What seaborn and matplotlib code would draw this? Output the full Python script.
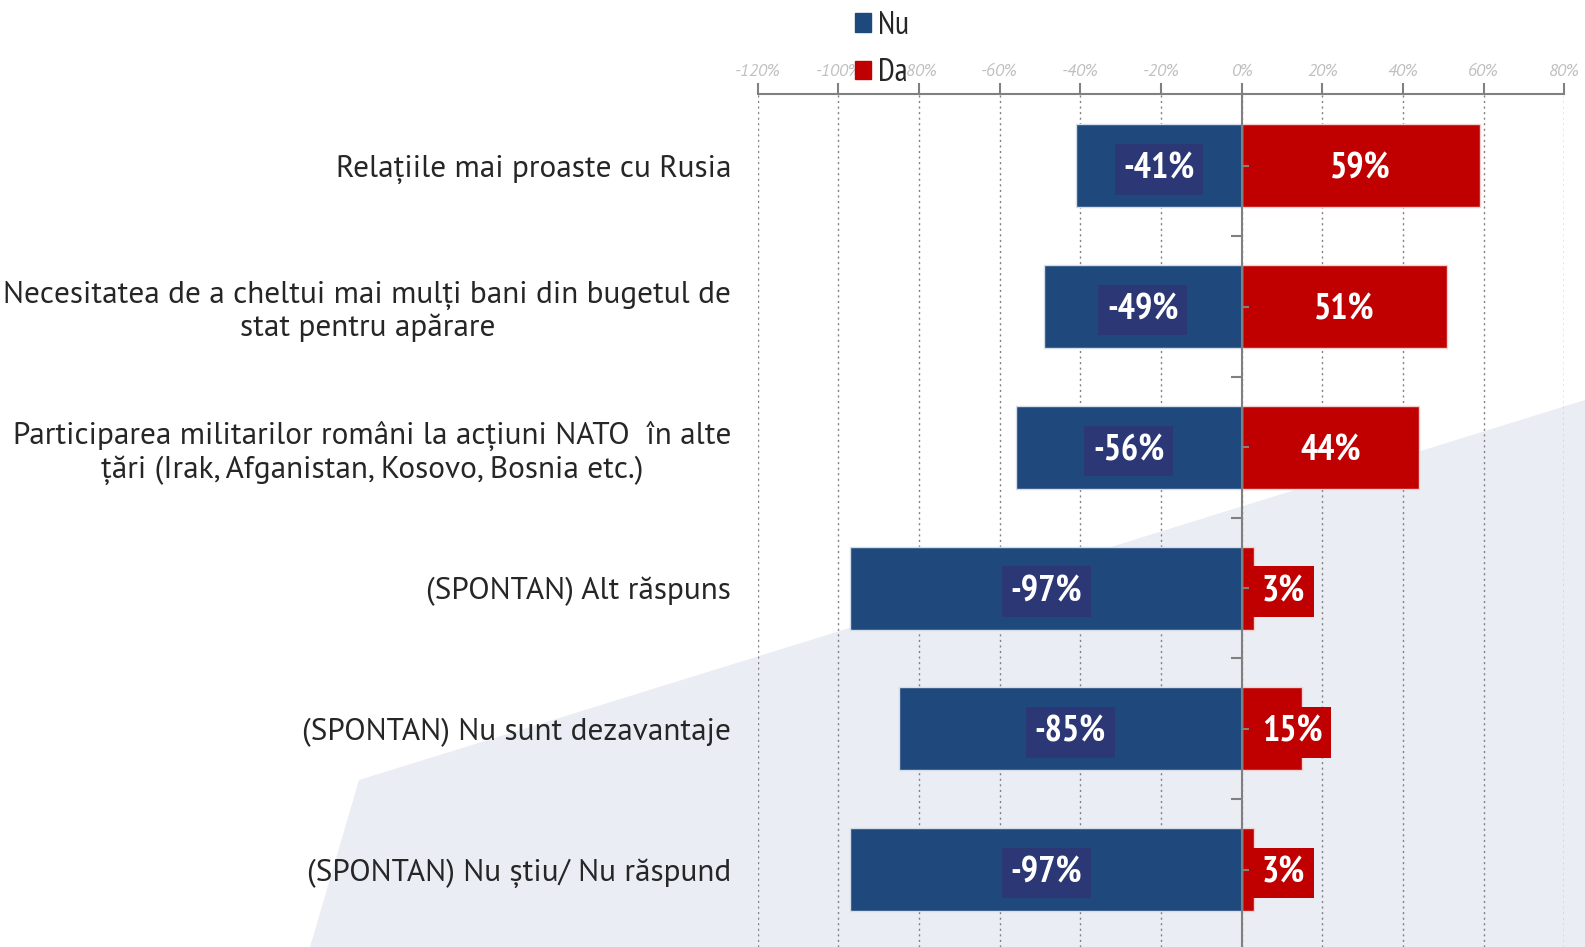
import numpy as np
import pandas as pd
import matplotlib
matplotlib.use("Agg")
import matplotlib.pyplot as plt
from matplotlib.patches import Polygon
import seaborn as sns

# data
categories = [
    "Relațiile mai proaste cu Rusia",
    "Necesitatea de a cheltui mai mulți bani din bugetul de\nstat pentru apărare",
    "Participarea militarilor români la acțiuni NATO  în alte\nțări (Irak, Afganistan, Kosovo, Bosnia etc.)",
    "(SPONTAN) Alt răspuns",
    "(SPONTAN) Nu sunt dezavantaje",
    "(SPONTAN) Nu știu/ Nu răspund",
]
nu_values = [-41, -49, -56, -97, -85, -97]
da_values = [59, 51, 44, 3, 15, 3]
xticks = list(range(-120, 81, 20))

blue = "#1f497d"
red = "#c00000"
box_blue = "#2c3876"

sns.set_style("white")
plt.rcParams["font.family"] = ["PT Sans", "DejaVu Sans"]

df = pd.DataFrame({"cat": categories, "Nu": nu_values, "Da": da_values})

fig = plt.figure(figsize=(15.85, 9.47), dpi=100)

# light background shape in the lower right
bg = Polygon([[310 / 1585, 0], [359 / 1585, 1 - 780 / 947], [1, 1 - 400 / 947], [1, 0]],
             closed=True, transform=fig.transFigure, facecolor="#eaeef4",
             edgecolor="none", zorder=-10)
fig.patches.append(bg)

ax = fig.add_axes([0.478, 0.0, 0.509, 0.9007])
ax.patch.set_alpha(0)

sns.barplot(data=df, x="Nu", y="cat", orient="h", color=blue, width=0.59,
            edgecolor="#d5dde8", linewidth=1, saturation=1, ax=ax, zorder=3)
sns.barplot(data=df, x="Da", y="cat", orient="h", color=red, width=0.59,
            edgecolor="#f0d0d0", linewidth=1, saturation=1, ax=ax, zorder=3)

ax.set_xlim(-120, 80)
ax.set_ylim(len(categories) - 0.45, -0.51)
ax.set_xlabel("")
ax.set_ylabel("")

# top axis
ax.xaxis.tick_top()
ax.set_xticks(xticks)
ax.set_xticklabels([f"{t}%" for t in xticks], fontsize=12.5, color="#bfbfbf",
                   style="italic")
ax.tick_params(axis="x", direction="out", length=8, width=1.5, color="#808080", pad=2)
ax.grid(axis="x", linestyle=(0, (1.5, 2.5)), color="#808080", linewidth=1, zorder=0)

for s in ["left", "right", "bottom"]:
    ax.spines[s].set_visible(False)
ax.spines["top"].set_color("#808080")
ax.spines["top"].set_linewidth(1.5)

ax.tick_params(axis="y", length=0, pad=19, labelsize=22.5)
for lab in ax.get_yticklabels():
    lab.set_multialignment("center")
    lab.set_linespacing(1.17)

# zero line with its small tick marks
ax.axvline(0, color="#808080", linewidth=1.5, zorder=4)
n = len(categories)
ax.plot(np.zeros(n - 1), np.arange(n - 1) + 0.5, linestyle="none", marker=0,
        markersize=8, markeredgewidth=1.5, color="#808080", zorder=4)
ax.plot(np.zeros(n), np.arange(n), linestyle="none", marker=1,
        markersize=5, markeredgewidth=1.5, color="#808080", zorder=4)

# value labels
vfont = ["PT Sans Narrow", "DejaVu Sans"]
for i, (nv, dv) in enumerate(zip(nu_values, da_values)):
    y = i + 0.025
    ax.text(nv / 2, y, f"{nv}%", ha="center", va="center", color="white",
            fontsize=26, fontweight="bold", family=vfont, zorder=5,
            bbox=dict(boxstyle="square,pad=0.24", facecolor=box_blue, edgecolor="none"))
    if dv >= 20:
        ax.text(dv / 2, y, f"{dv}%", ha="center", va="center", color="white",
                fontsize=26, fontweight="bold", family=vfont, zorder=5)
    else:
        ax.text(5.0, y, f"{dv}%", ha="left", va="center", color="white",
                fontsize=26, fontweight="bold", family=vfont, zorder=5,
                bbox=dict(boxstyle="square,pad=0.24", facecolor=red, edgecolor="none"))

handles = [plt.Rectangle((0, 0), 1, 1, color=blue), plt.Rectangle((0, 0), 1, 1, color=red)]
fig.legend(handles, ["Nu", "Da"], loc="upper left", bbox_to_anchor=(0.521, 1.019),
           frameon=False, prop={"family": vfont, "size": 23}, handlelength=0.5,
           handleheight=0.5, handletextpad=0.25, labelspacing=0.55)

fig.savefig("out.png", dpi=100)
